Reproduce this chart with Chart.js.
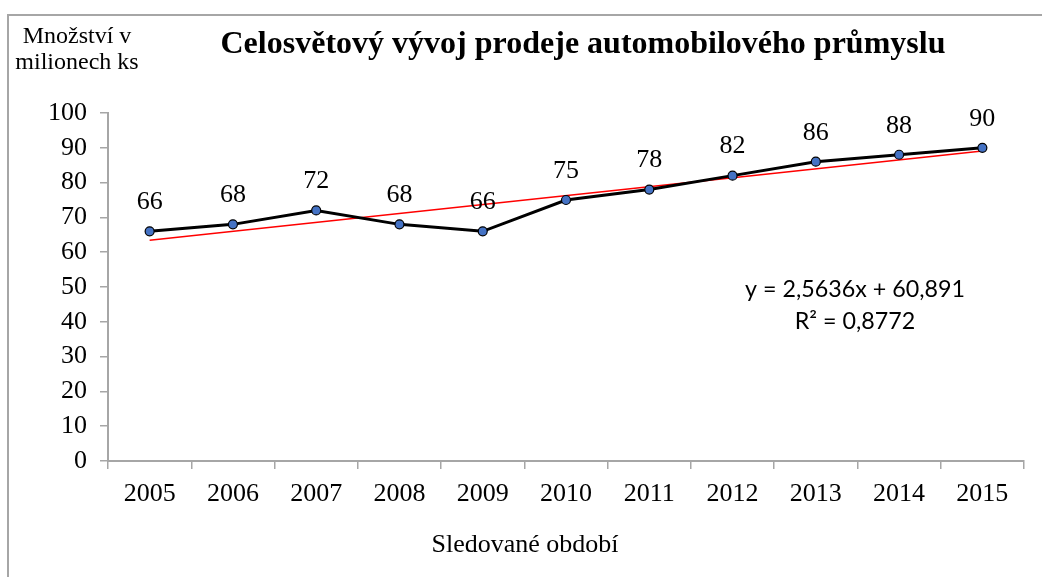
<!DOCTYPE html>
<html lang="cs">
<head>
<meta charset="utf-8">
<title>Celosvětový vývoj prodeje automobilového průmyslu</title>
<script src="https://cdn.jsdelivr.net/npm/chart.js@4/dist/chart.umd.min.js"></script>
<style>
    html, body { margin: 0; padding: 0; background: #fff; overflow: hidden; }
    #wrap { position: relative; width: 1042px; height: 577px; }
    #frame {
        position: absolute; left: 7px; top: 14px; width: 2000px; height: 2000px;
        border-left: 2px solid #a6a6a6; border-top: 2px solid #a6a6a6;
        pointer-events: none;
    }
    canvas { position: absolute; left: 0; top: 0; }
</style>
</head>
<body>
<div id="wrap">
    <canvas id="salesChart" width="1042" height="577"></canvas>
    <div id="frame"></div>
</div>
<script>
// --- data ---
const years = ['2005', '2006', '2007', '2008', '2009', '2010', '2011', '2012', '2013', '2014', '2015'];
const sales = [66, 68, 72, 68, 66, 75, 78, 82, 86, 88, 90];
// lineární trend: jen krajní body (y = 2,5636x + 60,891)
const trend = [63.45, null, null, null, null, null, null, null, null, null, 89.09];
const yTicks = [0, 10, 20, 30, 40, 50, 60, 70, 80, 90, 100];

const chartTitle = 'Celosvětový vývoj prodeje automobilového průmyslu';
const yTitle = ['Množství v', 'milionech ks'];
const xTitle = 'Sledované období';
const equation = ['y = 2,5636x + 60,891', 'R² = 0,8772'];

const serif = '"Liberation Serif", "Times New Roman", serif';
const sans = 'Lato, "Liberation Sans", Arial, sans-serif';
const axisGray = '#a6a6a6';

// text zúžený na danou šířku (písmo v originále je užší)
function fitText(ctx, text, x, y, sx) {
    ctx.save();
    ctx.translate(x, y);
    ctx.scale(sx, 1);
    ctx.fillText(text, 0, 0);
    ctx.restore();
}

// texty mimo osy + popisky hodnot
const textPlugin = {
    id: 'texts',
    afterDatasetsDraw(chart) {
        const ctx = chart.ctx;
        ctx.save();
        ctx.fillStyle = '#000';
        ctx.textAlign = 'center';
        ctx.textBaseline = 'middle';

        // popisky hodnot nad body
        ctx.font = '26px ' + serif;
        const meta = chart.getDatasetMeta(0);
        meta.data.forEach((pt, i) => {
            ctx.fillText(String(sales[i]), pt.x, pt.y - 29);
        });

        // hlavní nadpis
        ctx.font = 'bold 31px ' + serif;
        fitText(ctx, chartTitle, 583, 45, 725 / ctx.measureText(chartTitle).width);

        // název osy y
        ctx.font = '24px ' + serif;
        ctx.fillText(yTitle[0], 77, 37);
        ctx.fillText(yTitle[1], 77, 63);

        // název osy x
        ctx.font = '26px ' + serif;
        ctx.fillText(xTitle, 525, 545);

        // rovnice trendu
        ctx.font = '24px ' + sans;
        const sx = Math.min(1, 220 / ctx.measureText(equation[0]).width);
        fitText(ctx, equation[0], 855, 289, sx);
        fitText(ctx, equation[1], 855, 321, sx);
        ctx.restore();
    }
};

new Chart(document.getElementById('salesChart'), {
    type: 'line',
    data: {
        labels: years,
        datasets: [
            {
                label: 'Prodej',
                data: sales,
                borderColor: '#000',
                borderWidth: 3,
                tension: 0,
                pointRadius: 4.5,
                pointBackgroundColor: '#4472C4',
                pointBorderColor: '#000',
                pointBorderWidth: 1.2,
                order: 1
            },
            {
                label: 'Lineární trend',
                data: trend,
                borderColor: '#ff0000',
                borderWidth: 1.5,
                pointRadius: 0,
                spanGaps: true,
                order: 2
            }
        ]
    },
    options: {
        responsive: false,
        animation: false,
        layout: { padding: { top: 113, right: 18, left: 0, bottom: 0 } },
        plugins: {
            legend: { display: false },
            tooltip: { enabled: false },
            title: { display: false }
        },
        scales: {
            x: {
                offset: true,
                grid: {
                    offset: true,
                    drawOnChartArea: false,
                    drawTicks: true,
                    tickLength: 8,
                    color: axisGray,
                    lineWidth: 1.5
                },
                border: { display: true, color: axisGray, width: 2 },
                ticks: {
                    color: '#000',
                    font: { family: serif, size: 26 },
                    padding: 10,
                    maxRotation: 0
                },
                afterFit(scale) { scale.height = 116; }
            },
            y: {
                min: 0,
                max: 100,
                afterBuildTicks(scale) { scale.ticks = yTicks.map(v => ({ value: v })); },
                grid: {
                    drawOnChartArea: false,
                    drawTicks: true,
                    tickLength: 8,
                    color: axisGray,
                    lineWidth: 1.5
                },
                border: { display: true, color: axisGray, width: 2 },
                ticks: {
                    color: '#000',
                    font: { family: serif, size: 26 },
                    padding: 13
                },
                afterFit(scale) { scale.width = 108; }
            }
        }
    },
    plugins: [textPlugin]
});
</script>
</body>
</html>
